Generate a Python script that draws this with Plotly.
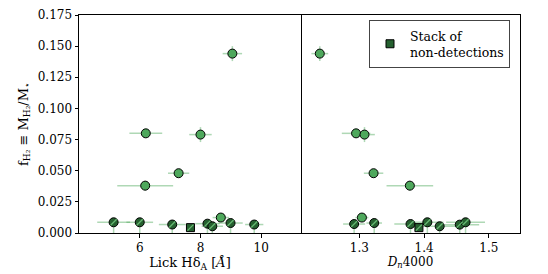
import plotly.graph_objects as go
from plotly.subplots import make_subplots

# ---- Data ----
# Detections (solid markers): Lick HdA panel
hd_det = [9.05, 6.20, 8.00, 7.28, 6.18, 8.67]
hd_det_err = [0.32, 0.54, 0.37, 0.35, 0.92, 0.27]
fh2_det = [0.144, 0.080, 0.079, 0.048, 0.038, 0.0124]
fh2_det_err = [0.006, 0.003, 0.006, 0.003, 0.004, 0.002]

# Detections: Dn4000 panel
dn_det = [1.239, 1.295, 1.308, 1.322, 1.378, 1.304]
dn_det_err = [0.013, 0.022, 0.016, 0.015, 0.036, 0.010]

# Non-detections (hatched, upper limits)
hd_nd = [5.14, 6.00, 7.07, 8.23, 8.39, 8.99, 9.77]
hd_nd_err = [0.54, 0.44, 0.44, 0.40, 0.35, 0.40, 0.30]
fh2_nd_left = [0.0086, 0.0086, 0.0068, 0.0075, 0.0054, 0.0080, 0.0068]

dn_nd = [1.292, 1.323, 1.379, 1.405, 1.424, 1.455, 1.464]
dn_nd_err = [0.017, 0.012, 0.025, 0.025, 0.030, 0.030, 0.030]
fh2_nd_right = [0.0072, 0.0080, 0.0072, 0.0086, 0.0054, 0.0067, 0.0086]

# Stack of non-detections
stack_hd = [7.67]
stack_dn = [1.392]
stack_fh2 = [0.0043]

GREEN = "#4ea85c"
DARK = "#25602f"
HATCH = "#66b872"
ERR = "rgba(78,168,92,0.45)"
FONT = "DejaVu Serif"

fig = make_subplots(rows=1, cols=2, shared_yaxes=True, horizontal_spacing=0,
                    column_widths=[0.5034, 0.4966])

def add_panel(col, xd, xde, xn, xne, yn, xs, showleg):
    # detections
    fig.add_trace(go.Scatter(
        x=xd, y=fh2_det, mode="markers",
        error_x=dict(type="data", array=xde, color=ERR, thickness=1.5, width=0),
        error_y=dict(type="data", array=fh2_det_err, color=ERR, thickness=1.5, width=0),
        marker=dict(size=9, color=GREEN, line=dict(color="black", width=1)),
        showlegend=False), row=1, col=col)
    # non-detections (upper limits)
    fig.add_trace(go.Scatter(
        x=xn, y=yn, mode="markers",
        error_x=dict(type="data", array=xne, color=ERR, thickness=1.5, width=0),
        error_y=dict(type="data", symmetric=False, array=[0]*len(yn), arrayminus=yn,
                     color=ERR, thickness=1.5, width=0),
        marker=dict(size=9, color=DARK, line=dict(color="black", width=1)),
        showlegend=False), row=1, col=col)
    fig.add_trace(go.Scatter(
        x=xn, y=yn, mode="markers", hoverinfo="skip",
        marker=dict(size=6, symbol="line-ne", line=dict(color=HATCH, width=1.3)),
        showlegend=False), row=1, col=col)
    # stack
    fig.add_trace(go.Scatter(
        x=xs, y=stack_fh2, mode="markers", name="Stack of<br>non-detections",
        marker=dict(size=8, symbol="square", color=DARK, line=dict(color="black", width=1)),
        showlegend=showleg), row=1, col=col)
    fig.add_trace(go.Scatter(
        x=xs, y=stack_fh2, mode="markers", hoverinfo="skip",
        marker=dict(size=6, symbol="line-ne", line=dict(color=HATCH, width=1.3)),
        showlegend=False), row=1, col=col)

add_panel(1, hd_det, hd_det_err, hd_nd, hd_nd_err, fh2_nd_left, stack_hd, True)
add_panel(2, dn_det, dn_det_err, dn_nd, dn_nd_err, fh2_nd_right, stack_dn, False)

axis_common = dict(showline=True, linecolor="black", linewidth=1, mirror=True,
                   showgrid=False, zeroline=False, ticks="outside", ticklen=3.5,
                   tickwidth=1, tickcolor="black", automargin=False,
                   tickfont=dict(family=FONT, size=12, color="black"),
                   title_font=dict(family=FONT, size=12, color="black"))

fig.update_xaxes(**axis_common)
fig.update_yaxes(**axis_common)
fig.update_xaxes(range=[4.0, 11.31], tickvals=[6, 8, 10],
                 title=dict(text="Lick Hδ<sub>A</sub> [<i>Å</i>]", standoff=2,
                            font=dict(family=FONT, size=13, color="black")), row=1, col=1)
fig.update_xaxes(range=[1.21, 1.548], tickvals=[1.3, 1.4, 1.5], ticktext=["1.3", "1.4", "1.5"],
                 title=dict(text="<i>D<sub>n</sub></i>4000", standoff=2), row=1, col=2)
fig.update_yaxes(range=[0, 0.175], tickvals=[0, 0.025, 0.05, 0.075, 0.1, 0.125, 0.15, 0.175],
                 ticktext=["0.000", "0.025", "0.050", "0.075", "0.100", "0.125", "0.150", "0.175"],
                 title=dict(text="f<sub>H₂</sub> ≡ M<sub>H₂</sub>/M<sub>⋆</sub>", standoff=6,
                            font=dict(family=FONT, size=13, color="black")),
                 row=1, col=1)
fig.update_yaxes(ticks="", showticklabels=False, side="right", mirror=False, row=1, col=2)

# The page body adds an 8px offset, so the figure is 8px smaller and margins shifted.
fig.update_layout(
    width=540, height=266,
    margin=dict(l=71, r=28, t=7, b=41),
    paper_bgcolor="white", plot_bgcolor="white",
    font=dict(family=FONT, size=12, color="black"),
    legend=dict(x=0.6576, y=0.977, xanchor="left", yanchor="top",
                bgcolor="white", bordercolor="#444", borderwidth=1,
                font=dict(family=FONT, size=12.5, color="black")),
)

fig.write_html("out.html")
